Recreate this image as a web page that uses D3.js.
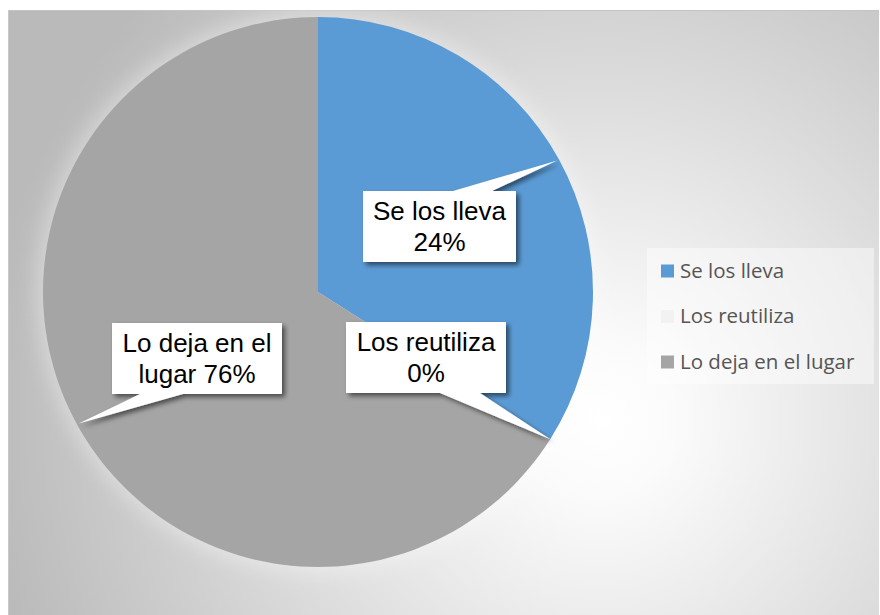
<!DOCTYPE html>
<html>
<head>
<meta charset="utf-8">
<script src="https://cdn.jsdelivr.net/npm/d3@7"></script>
<style>
  body { margin: 0; background: #fff; }
</style>
</head>
<body>
<svg id="chart"></svg>
<script>
var w = 880;
var h = 615;

// data (slice sizes) and the printed label text
var categories = ["Se los lleva", "Los reutiliza", "Lo deja en el lugar"];
var values = [34, 0, 66];
var pctLabels = ["24%", "0%", "76%"];
var labelLines = [["Se los lleva", "24%"], ["Los reutiliza", "0%"], ["Lo deja en el", "lugar 76%"]];
var colors = ["#5b9bd5", "#f2f2f2", "#a5a5a5"];

var cx = 318, cy = 292, r = 275;

var svg = d3.select("#chart")
  .attr("width", w)
  .attr("height", h);

var defs = svg.append("defs");

var bg = defs.append("radialGradient")
  .attr("id", "bg")
  .attr("gradientUnits", "userSpaceOnUse")
  .attr("cx", 600).attr("cy", 420).attr("r", 620)
bg.append("stop").attr("offset", "0").attr("stop-color", "#ffffff")
bg.append("stop").attr("offset", "0.12").attr("stop-color", "#fbfbfb")
bg.append("stop").attr("offset", "1").attr("stop-color", "#bababa")

var glow = defs.append("filter").attr("id", "glow")
  .attr("x", "-20%").attr("y", "-20%").attr("width", "140%").attr("height", "140%")
glow.append("feGaussianBlur").attr("stdDeviation", 10)

var shadow = defs.append("filter").attr("id", "shadow")
  .attr("x", "-20%").attr("y", "-20%").attr("width", "140%").attr("height", "150%")
shadow.append("feDropShadow")
  .attr("dx", 3).attr("dy", 3).attr("stdDeviation", 2.5)
  .attr("flood-color", "#000").attr("flood-opacity", 0.55)

// chart area
svg.append("rect")
  .attr("x", 8).attr("y", 10)
  .attr("width", 871).attr("height", 610)
  .attr("fill", "url(#bg)")
svg.append("line")
  .attr("x1", 8).attr("x2", 879).attr("y1", 10.5).attr("y2", 10.5)
  .attr("stroke", "#c4c4c4")
svg.append("line")
  .attr("x1", 8.5).attr("x2", 8.5).attr("y1", 10).attr("y2", 615)
  .attr("stroke", "#c8c8c8")

// soft light halo around the pie
svg.append("circle")
  .attr("cx", cx).attr("cy", cy).attr("r", r + 6)
  .attr("fill", "#fff").attr("opacity", 0.35)
  .attr("filter", "url(#glow)")

var pie = d3.pie().sort(null).value(function(d) { return d; });
var arcs = pie(values);

var arc = d3.arc().innerRadius(0).outerRadius(r);

var g = svg.append("g").attr("transform", "translate(" + cx + "," + cy + ")");

g.selectAll(".slice")
  .data(arcs)
  .enter()
  .append("path")
  .attr("class", "slice")
  .attr("d", arc)
  .attr("fill", function(d, i) { return colors[i]; })

// callouts: box centre, size, which edge the pointer leaves from and where
var layout = [
  {x: 439.5, y: 226.5, bw: 153, bh: 71, edge: "top", b0: 13.5, b1: 52.5, tipEnd: false},
  {x: 426, y: 357.5, bw: 160, bh: 71, edge: "bottom", b0: 14, b1: 54, tipEnd: true},
  {x: 197, y: 358.5, bw: 170, bh: 71, edge: "bottom", b0: -57, b1: -14, tipEnd: false}
];

function tipPoint(d, atEnd) {
  var a = atEnd ? d.endAngle : (d.startAngle + d.endAngle) / 2;
  var rr = atEnd ? r : r - 2;
  return [cx + rr * Math.sin(a), cy - rr * Math.cos(a)];
}

function calloutPath(L, tip) {
  var x0 = L.x - L.bw / 2, x1 = L.x + L.bw / 2;
  var y0 = L.y - L.bh / 2, y1 = L.y + L.bh / 2;
  var p = d3.path();
  p.moveTo(x0, y0);
  if (L.edge == "top") {
    p.lineTo(L.x + L.b0, y0);
    p.lineTo(tip[0], tip[1]);
    p.lineTo(L.x + L.b1, y0);
  }
  p.lineTo(x1, y0);
  p.lineTo(x1, y1);
  if (L.edge == "bottom") {
    p.lineTo(L.x + L.b1, y1);
    p.lineTo(tip[0], tip[1]);
    p.lineTo(L.x + L.b0, y1);
  }
  p.lineTo(x0, y1);
  p.closePath();
  return p.toString();
}

var callouts = svg.selectAll(".callout")
  .data(arcs)
  .enter()
  .append("g")
  .attr("class", "callout")

callouts.append("path")
  .attr("d", function(d, i) { return calloutPath(layout[i], tipPoint(d, layout[i].tipEnd)); })
  .attr("fill", "#fff")
  .attr("filter", "url(#shadow)")

callouts.append("text")
  .attr("text-anchor", "middle")
  .attr("font-family", "'Liberation Sans', Arial, sans-serif")
  .attr("font-size", 26)
  .attr("fill", "#000")
  .selectAll("tspan")
  .data(function(d, i) { return labelLines[i].map(function(t) { return {t: t, L: layout[i]}; }); })
  .enter()
  .append("tspan")
  .attr("x", function(d) { return d.L.x; })
  .attr("y", function(d, j) { return d.L.y - 7 + j * 31; })
  .text(function(d) { return d.t; })

// legend
var legend = svg.append("g")
legend.append("rect")
  .attr("x", 647).attr("y", 248)
  .attr("width", 227).attr("height", 136)
  .attr("fill", "#fff").attr("opacity", 0.45)

var ly = d3.scalePoint().domain(categories).range([271, 362]);

var item = legend.selectAll(".item")
  .data(categories)
  .enter()
  .append("g")
  .attr("class", "item")
  .attr("transform", function(d) { return "translate(0," + ly(d) + ")"; })

item.append("rect")
  .attr("x", 661).attr("y", -6.5)
  .attr("width", 13).attr("height", 13)
  .attr("fill", function(d, i) { return colors[i]; })

item.append("text")
  .attr("x", 680).attr("y", 6.5)
  .attr("font-family", "'Open Sans', sans-serif")
  .attr("font-size", 20.5)
  .attr("fill", "#555")
  .text(function(d) { return d; })
</script>
</body>
</html>
